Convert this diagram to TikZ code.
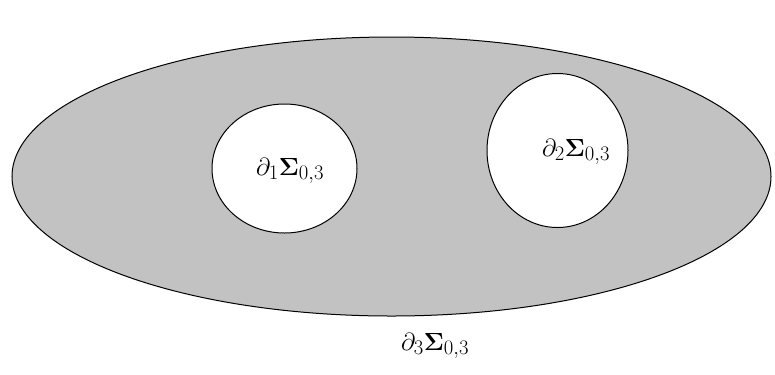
\documentclass[tikz,border=0pt]{standalone}
\usetikzlibrary{shapes.geometric}

\begin{document}
\begin{tikzpicture}[
    x=1bp, y=-1bp,
    region/.style={draw=black, line width=1bp, fill=black!24},
    hole/.style={draw=black, line width=1bp, fill=white},
    lbl/.style={font=\fontsize{29}{33}\selectfont, inner sep=0pt}
  ]
  \useasboundingbox (0,0) rectangle (775,374);

  % surface and its two holes
  \path[region] (391.5,176.5) ellipse [x radius=379.5bp, y radius=139.5bp];
  \path[hole] (284.5,168.5) ellipse [x radius=72.5bp, y radius=64.5bp];
  \path[hole] (557.5,150.5) ellipse [x radius=70.5bp, y radius=77bp];

  % boundary labels
  \node[lbl] (bdA) at (290,171) {$\partial_1\mathbf{\Sigma}_{0,3}$};
  \node[lbl] (bdB) at (576,152) {$\partial_2\mathbf{\Sigma}_{0,3}$};
  \node[lbl] (bdC) at (435,346) {$\partial_3\mathbf{\Sigma}_{0,3}$};
\end{tikzpicture}
\end{document}
